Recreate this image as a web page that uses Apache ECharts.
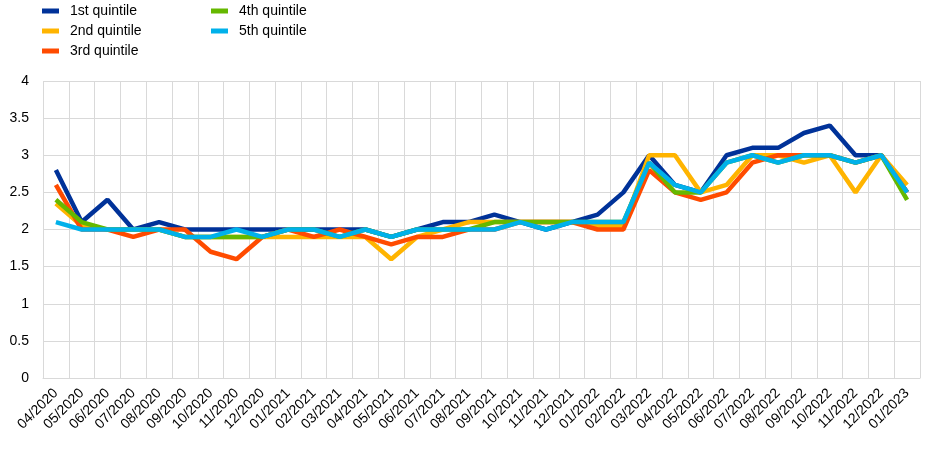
<!DOCTYPE html>
<html><head><meta charset="utf-8">
<script src="https://cdn.jsdelivr.net/npm/echarts@6/dist/echarts.min.js"></script>
<style>html,body{margin:0;padding:0;background:#fff}#c{width:948px;height:449px}</style>
</head><body><div id="c"></div>
<script>
const categories = ["04/2020","05/2020","06/2020","07/2020","08/2020","09/2020","10/2020","11/2020","12/2020",
"01/2021","02/2021","03/2021","04/2021","05/2021","06/2021","07/2021","08/2021","09/2021","10/2021","11/2021","12/2021",
"01/2022","02/2022","03/2022","04/2022","05/2022","06/2022","07/2022","08/2022","09/2022","10/2022","11/2022","12/2022","01/2023"];
const q1 = [2.8,2.1,2.4,2.0,2.1,2.0,2.0,2.0,2.0,2.0,2.0,2.0,2.0,1.9,2.0,2.1,2.1,2.2,2.1,2.0,2.1,2.2,2.5,3.0,2.6,2.5,3.0,3.1,3.1,3.3,3.4,3.0,3.0,2.5];
const q2 = [2.35,2.05,2.0,2.0,2.0,1.9,1.9,1.9,1.9,1.9,1.9,1.9,1.9,1.6,1.9,2.0,2.1,2.1,2.1,2.1,2.1,2.05,2.05,3.0,3.0,2.5,2.6,3.0,3.0,2.9,3.0,2.5,3.0,2.6];
const q3 = [2.6,2.0,2.0,1.9,2.0,2.0,1.7,1.6,1.9,2.0,1.9,2.0,1.9,1.8,1.9,1.9,2.0,2.0,2.1,2.1,2.1,2.0,2.0,2.8,2.5,2.4,2.5,2.9,3.0,3.0,3.0,2.9,3.0,2.5];
const q4 = [2.4,2.1,2.0,2.0,2.0,1.9,1.9,1.9,1.9,2.0,2.0,1.9,2.0,1.9,2.0,2.0,2.0,2.1,2.1,2.1,2.1,2.1,2.1,2.9,2.5,2.5,2.9,3.0,2.9,3.0,3.0,2.9,3.0,2.4];
const q5 = [2.1,2.0,2.0,2.0,2.0,1.9,1.9,2.0,1.9,2.0,2.0,1.9,2.0,1.9,2.0,2.0,2.0,2.0,2.1,2.0,2.1,2.1,2.1,2.9,2.6,2.5,2.9,3.0,2.9,3.0,3.0,2.9,3.0,2.5];
const names = ["1st quintile","2nd quintile","3rd quintile","4th quintile","5th quintile"];
const colors = ["#003299","#ffb400","#ff4b00","#65b800","#00b1ea"];
const values = [q1,q2,q3,q4,q5];

const chart = echarts.init(document.getElementById('c'));
const legendCommon = {orient:'vertical', itemWidth:17, itemHeight:5, itemGap:6,
  icon:'rect', textStyle:{fontFamily:'Liberation Sans, Arial', fontSize:14, color:'#000', padding:[0,0,0,6]}};
chart.setOption({
  animation:false,
  color: colors,
  legend:[
    Object.assign({left:37, top:-1, data:names.slice(0,3)}, legendCommon),
    Object.assign({left:206, top:-1, data:names.slice(3)}, legendCommon)
  ],
  grid:{left:43, right:28, top:81, bottom:71, containLabel:false},
  xAxis:{type:'category', data:categories, boundaryGap:true,
    axisLine:{show:true, lineStyle:{color:'#d9d9d9', width:1}},
    axisTick:{show:false},
    splitLine:{show:true, interval:0, lineStyle:{color:'#d9d9d9', width:1}},
    axisLabel:{interval:0, rotate:45, fontFamily:'Liberation Sans, Arial', fontSize:14, color:'#000', margin:13}},
  yAxis:{type:'value', min:0, max:4, interval:0.5,
    axisLine:{show:false}, axisTick:{show:false},
    splitLine:{show:true, lineStyle:{color:'#d9d9d9', width:1}},
    axisLabel:{fontFamily:'Liberation Sans, Arial', fontSize:14, color:'#000', margin:14}},
  series: values.map((v,i)=>({name:names[i], type:'line', data:v, symbol:'none',
    lineStyle:{width:4.5, color:colors[i]}, itemStyle:{color:colors[i]}, z:2+i}))
});
</script></body></html>
